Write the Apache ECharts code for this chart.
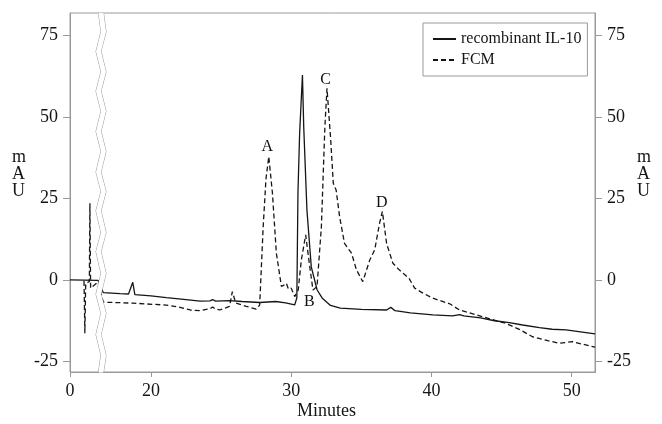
<!DOCTYPE html>
<html>
<head>
<meta charset="utf-8">
<script src="https://cdn.jsdelivr.net/npm/echarts@6/dist/echarts.min.js"></script>
<style>html,body{margin:0;padding:0;background:#fff;}#c{width:662px;height:424px;}</style>
</head>
<body>
<div id="c"></div>
<script>
// ---- data (minutes, mAU) ----
const timeIL10 = [0, 2.0, 16.6, 17.8, 18.4, 18.7, 18.85, 20.0, 21.1, 22.5, 23.5, 24.2, 24.4, 24.6, 25.6, 26.5, 27.75, 28.9, 29.6, 30.25, 30.4, 30.48, 30.6, 30.8, 30.89, 31.12, 31.43, 31.84, 32.2, 32.8, 33.5, 35.0, 36.8, 37.1, 37.4, 38.5, 40.1, 41.5, 42.0, 42.3, 43.5, 44.5, 45.55, 46.5, 47.7, 48.6, 49.6, 50.5, 51.66];
const valIL10  = [0, -0.1, -3.9, -4.2, -4.3, -0.7, -4.5, -4.9, -5.4, -6.0, -6.5, -6.4, -6.0, -6.5, -6.3, -6.6, -6.9, -6.6, -7.0, -7.6, -5.5, 26.7, 45, 62.8, 47, 21.4, 4, -3, -5.5, -7.8, -8.6, -9.0, -9.2, -8.4, -9.4, -10.1, -10.7, -11.0, -10.6, -11.0, -11.6, -12.5, -13.1, -13.8, -14.6, -15.1, -15.3, -15.8, -16.5];

const timeFCM = [1.0, 1.06, 1.12, 1.38, 1.42, 1.47, 1.6, 2.0, 16.6, 18.7, 21.1, 22.0, 22.8, 23.5, 24.2, 24.4, 24.6, 24.9, 25.6, 25.8, 26.05, 26.8, 27.5, 27.75, 28.0, 28.2, 28.4, 28.66, 28.94, 29.3, 29.5, 29.65, 29.8, 30.0, 30.25, 30.5, 30.72, 31.03, 31.32, 31.55, 31.84, 32.15, 32.4, 32.55, 32.8, 33.0, 33.2, 33.45, 33.8, 34.3, 34.65, 35.1, 35.6, 35.95, 36.3, 36.5, 36.8, 37.25, 37.7, 38.0, 38.4, 38.8, 39.3, 40.1, 41.3, 42.0, 43.6, 45.3, 46.3, 47.2, 48.3, 49.1, 50.05, 50.7, 51.66];
const valFCM  = [-0.3, -16.3, -1, -0.5, 23.5, -2.5, -2.8, -0.6, -6.8, -7.1, -7.7, -8.3, -9.2, -9.4, -8.8, -8.3, -8.9, -9.2, -8.1, -3.6, -7.1, -8.1, -8.9, -7.7, 16.3, 31, 37.8, 26.6, 8.2, -2, -1.5, -1, -2.8, -2.5, -5.1, -3, 6.1, 13.8, 4.1, -3.1, -2, 16.3, 47, 58.7, 43.9, 29.6, 27.6, 19.4, 11.2, 8.2, 3.1, -0.5, 6.1, 9.2, 17.4, 21, 11.2, 5.1, 3.1, 2.0, 0.5, -2.5, -3.8, -5.6, -7.3, -9.2, -11.2, -13.3, -15.2, -17.4, -18.6, -19.4, -18.9, -19.6, -20.6];

const peakNames = ['A', 'B', 'C', 'D'];
const peakX = [28.3, 31.3, 32.45, 36.45];
const peakY = [40.7, -6.8, 61.3, 23.6];

const xTicks = [0, 20, 30, 40, 50];
const yTicks = [-25, 0, 25, 50, 75];
const seriesNames = ['recombinant IL-10', 'FCM'];

// ---- chart ----
const zip = (xs, ys) => xs.map((x, i) => [x, ys[i]]);
const FONT = '"Liberation Serif", "DejaVu Serif", serif';
const AX = '#9a9a9a';
const INK = '#151515';

const yAxisBase = (pos) => ({
  type: 'value', position: pos, min: -28.2, max: 81.8,
  axisLine: { show: true, onZero: false, lineStyle: { color: AX, width: 1 } },
  axisTick: { show: true, length: 7, customValues: yTicks, lineStyle: { color: AX } },
  axisLabel: { customValues: yTicks, margin: 12, color: INK, fontFamily: FONT, fontSize: 18 },
  splitLine: { show: false }
});

const chart = echarts.init(document.getElementById('c'), null, { renderer: 'canvas' });
chart.setOption({
  backgroundColor: '#fff',
  animation: false,
  grid: { left: 70, right: 67, top: 13, bottom: 52, show: true, borderColor: AX, borderWidth: 1, backgroundColor: 'transparent' },
  xAxis: {
    type: 'value', min: 0, max: 51.66,
    breaks: [{ start: 2.0, end: 16.6, gap: '1%' }],
    breakArea: {
      show: true,
      itemStyle: { color: '#fff', borderColor: '#999', borderWidth: 1, borderType: 'solid', opacity: 1 },
      zigzagAmplitude: 2.5, zigzagMinSpan: 18, zigzagMaxSpan: 22, zigzagZ: 100, expandOnClick: false
    },
    axisLine: { show: true, onZero: false, lineStyle: { color: AX, width: 1 } },
    axisTick: { show: true, length: 5, customValues: xTicks, lineStyle: { color: AX } },
    axisLabel: { customValues: xTicks, margin: 10, color: INK, fontFamily: FONT, fontSize: 18 },
    splitLine: { show: false }
  },
  yAxis: [yAxisBase('left'), yAxisBase('right')],
  legend: {
    data: seriesNames, orient: 'vertical', left: 423, top: 23,
    borderColor: AX, borderWidth: 1, padding: [8, 6, 8, 9],
    itemWidth: 23, itemHeight: 14, itemGap: 5,
    itemStyle: { color: 'transparent', borderWidth: 0, opacity: 0 },
    textStyle: { color: INK, fontFamily: FONT, fontSize: 16 }
  },
  graphic: [
    { type: 'text', left: 12, top: 148, style: { text: 'm\nA\nU', fill: INK, font: '18px ' + FONT, lineHeight: 17, align: 'center' } },
    { type: 'text', left: 637, top: 148, style: { text: 'm\nA\nU', fill: INK, font: '18px ' + FONT, lineHeight: 17, align: 'center' } },
    { type: 'text', left: 297, top: 402, style: { text: 'Minutes', fill: INK, font: '18px ' + FONT } }
  ],
  series: [
    { name: seriesNames[0], type: 'line', data: zip(timeIL10, valIL10), symbol: 'none', showSymbol: false, color: INK,
      lineStyle: { color: INK, width: 1.3, type: 'solid' } },
    { name: seriesNames[1], type: 'line', data: zip(timeFCM, valFCM), symbol: 'none', showSymbol: false, color: INK,
      lineStyle: { color: INK, width: 1.3, type: [5, 3] } },
    { name: 'peaks', type: 'scatter', data: zip(peakX, peakY), symbolSize: 0, silent: true, z: 5,
      itemStyle: { opacity: 1 },
      label: { show: true, position: 'inside', formatter: (p) => peakNames[p.dataIndex], color: '#111', opacity: 1, textBorderWidth: 0, fontFamily: FONT, fontSize: 16 } }
  ]
});
</script>
</body>
</html>
